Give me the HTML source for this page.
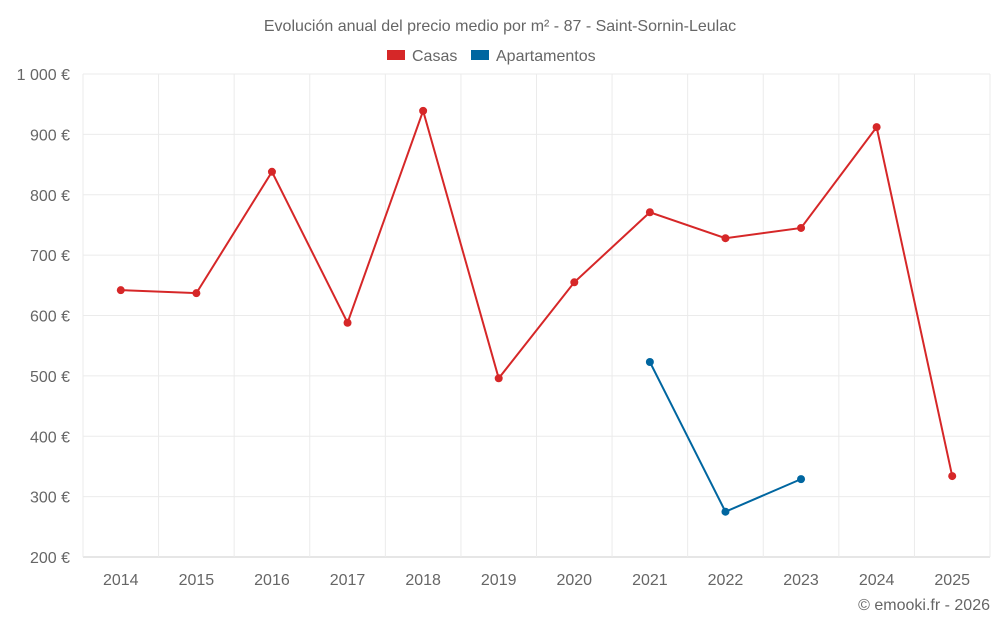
<!DOCTYPE html>
<html><head><meta charset="utf-8"><style>
body{margin:0;background:#fff;font-family:"Liberation Sans",sans-serif}
svg text{font-family:"Liberation Sans",sans-serif;fill:#666}
</style></head><body>
<svg id="c" width="1000" height="625">
<text x="500" y="31" text-anchor="middle" font-size="16">Evolución anual del precio medio por m² - 87 - Saint-Sornin-Leulac</text>
<g>
<g><rect x="387" y="50" width="18" height="10" fill="#d62728"/><text x="412" y="61" font-size="16">Casas</text></g>
<g><rect x="471" y="50" width="18" height="10" fill="#0066a0"/><text x="496" y="61" font-size="16">Apartamentos</text></g>
</g>
<g id="grid"></g><g id="axes"></g><g id="series"></g>
<text x="990" y="610" text-anchor="end" font-size="16">© emooki.fr - 2026</text>
</svg>
<script>
const years=["2014","2015","2016","2017","2018","2019","2020","2021","2022","2023","2024","2025"];
const casas=[642,637,838,588,939,496,655,771,728,745,912,334];
const apartamentos=[null,null,null,null,null,null,null,523,275,329,null,null];
const yTicks=[200,300,400,500,600,700,800,900,1000];
const yTickLabels=["200 €","300 €","400 €","500 €","600 €","700 €","800 €","900 €","1 000 €"];
const NS="http://www.w3.org/2000/svg";
const L=83,R=990,T=74,B=557;
const step=(R-L)/years.length;
const x=i=>L+step*(i+0.5);
const y=v=>B-(v-200)/800*(B-T);
function mk(t,a,p){const e=document.createElementNS(NS,t);for(const k in a)e.setAttribute(k,a[k]);p.appendChild(e);return e;}
const g=document.getElementById('grid'),ax=document.getElementById('axes'),s=document.getElementById('series');
yTicks.forEach((v,i)=>{
 const l=mk('line',{x1:L,x2:R,y1:y(v),y2:y(v),stroke:i==0?'#ccc':'#ebebeb'},g);
 
 
 const t=mk('text',{x:70,y:y(v)+6,'text-anchor':'end','font-size':'16'},ax);t.textContent=yTickLabels[i];
 
 
});
for(let i=0;i<=years.length;i++){
 const l=mk('line',{x1:L+step*i,x2:L+step*i,y1:T,y2:B+(i==0?0:0),stroke:'#ebebeb'},g);
 
 
}
years.forEach((yr,i)=>{
 const t=mk('text',{x:x(i),y:585,'text-anchor':'middle','font-size':'16'},ax);t.textContent=yr;
 
 
});
function draw(data,color,name){
 const pts=data.map((v,i)=>v==null?null:[x(i),y(v)]).filter(p=>p);
 const p=mk('polyline',{points:pts.map(p=>p.join(',')).join(' '),fill:'none',stroke:color,'stroke-width':2},s);
 
 
 pts.forEach(q=>{const c=mk('circle',{cx:q[0],cy:q[1],r:4,fill:color},s);
 
 });
}
draw(casas,'#d62728','casas');
draw(apartamentos,'#0066a0','apartamentos');
</script>
</body></html>
